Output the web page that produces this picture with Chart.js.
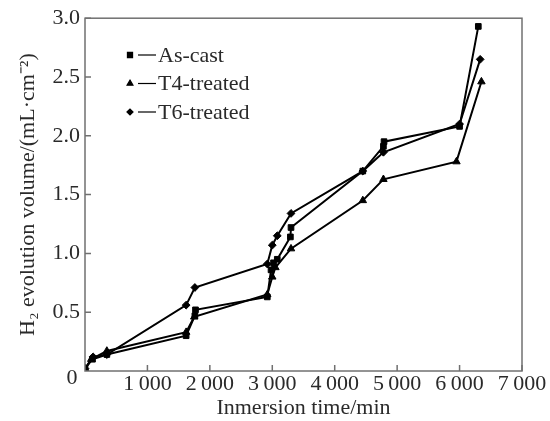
<!DOCTYPE html>
<html><head><meta charset="utf-8">
<script src="https://cdn.jsdelivr.net/npm/chart.js@4/dist/chart.umd.min.js"></script>
<style>html,body{margin:0;padding:0;background:#fff}#wrap{width:550px;height:421px;position:relative}</style>
</head><body><div id="wrap"><canvas id="c" width="550" height="421"></canvas></div>
<script>
const seriesNames = ["As-cast", "T4-treated", "T6-treated"];
const asCastX = [0, 120, 350, 1620, 1760, 1770, 2920, 2980, 3020, 3080, 3290, 3300, 4450, 4780, 4790, 6000, 6300];
const asCastY = [0.02, 0.10, 0.14, 0.30, 0.47, 0.52, 0.63, 0.86, 0.92, 0.95, 1.14, 1.22, 1.70, 1.91, 1.95, 2.08, 2.93];
const t4X = [0, 100, 350, 1620, 1750, 2920, 3000, 3050, 3300, 4450, 4780, 5950, 6350];
const t4Y = [0.02, 0.10, 0.17, 0.33, 0.46, 0.65, 0.80, 0.88, 1.04, 1.45, 1.63, 1.78, 2.46];
const t6X = [0, 130, 350, 1620, 1760, 2920, 3000, 3080, 3300, 4450, 4780, 6000, 6330];
const t6Y = [0.02, 0.12, 0.14, 0.56, 0.71, 0.91, 1.07, 1.15, 1.34, 1.70, 1.86, 2.10, 2.65];
const xTicks = [1000, 2000, 3000, 4000, 5000, 6000, 7000];
const yTicks = [0.5, 1.0, 1.5, 2.0, 2.5, 3.0];

const FONT = "'Liberation Serif', 'Times New Roman', serif";
const TXT = '#2a2a2a';
const pts = (xs, ys) => xs.map((x, i) => ({x: x, y: ys[i]}));
const styles = ['rect', 'triangle', 'rectRot'];
const radii = [4, 4.3, 3.9];
const dataSets = [pts(asCastX, asCastY), pts(t4X, t4Y), pts(t6X, t6Y)];

const framePlugin = {
  id: 'frame',
  afterDraw(chart) {
    const ctx = chart.ctx, a = chart.chartArea;
    const xs = chart.scales.x, ys = chart.scales.y;
    ctx.save();
    ctx.strokeStyle = '#707070';
    ctx.lineWidth = 1.5;
    ctx.strokeRect(a.left, a.top, a.right - a.left, a.bottom - a.top);
    ctx.beginPath();
    xTicks.forEach(v => { const p = xs.getPixelForValue(v); ctx.moveTo(p, a.bottom); ctx.lineTo(p, a.bottom - 6); });
    yTicks.forEach(v => { const p = ys.getPixelForValue(v); ctx.moveTo(a.left, p); ctx.lineTo(a.left + 6, p); });
    ctx.stroke();
    // origin label
    ctx.fillStyle = TXT;
    ctx.font = '22px ' + FONT;
    ctx.textAlign = 'center';
    ctx.textBaseline = 'middle';
    ctx.fillText('0', a.left - 13, a.bottom + 7);
    // legend
    const lx = 130, ly0 = 55, dy = 28.5;
    seriesNames.forEach((n, i) => {
      const y = ly0 + i * dy;
      ctx.fillStyle = '#000';
      ctx.strokeStyle = '#000';
      Chart.helpers.drawPoint(ctx, {pointStyle: styles[i], radius: i === 2 ? 3 : 3.4, borderWidth: 1}, lx, y);
      ctx.lineWidth = 1.2;
      ctx.beginPath(); ctx.moveTo(lx + 8, y); ctx.lineTo(lx + 26, y); ctx.stroke();
      ctx.fillStyle = TXT;
      ctx.textAlign = 'left';
      ctx.fillText(n, lx + 28, y + 1);
    });
    ctx.restore();
  }
};

new Chart(document.getElementById('c'), {
  type: 'line',
  data: {
    datasets: dataSets.map((d, i) => ({
      label: seriesNames[i],
      data: d,
      borderColor: '#000',
      backgroundColor: '#000',
      borderWidth: 2,
      pointStyle: styles[i],
      pointRadius: radii[i],
      pointBorderWidth: 1,
      tension: 0
    }))
  },
  options: {
    responsive: false,
    animation: false,
    layout: {padding: {left: 0, right: 28, top: 9, bottom: 0}},
    plugins: {legend: {display: false}, tooltip: {enabled: false}},
    scales: {
      x: {
        type: 'linear', min: 0, max: 7000,
        afterBuildTicks: s => { s.ticks = xTicks.map(v => ({value: v})); },
        afterFit: s => { s.height = 50; },
        grid: {display: false, drawTicks: false},
        border: {display: false},
        ticks: {color: TXT, font: {family: FONT, size: 22}, padding: 0, maxRotation: 0, autoSkip: false,
          callback: v => String(v).replace(/(\d)(\d{3})$/, '$1\u2009$2')},
        title: {display: true, text: 'Inmersion time/min', color: TXT, font: {family: FONT, size: 22}, padding: {top: 0, bottom: 0}}
      },
      y: {
        type: 'linear', min: 0, max: 3.0,
        afterBuildTicks: s => { s.ticks = yTicks.map(v => ({value: v})); },
        afterFit: s => { s.width = 85; },
        grid: {display: false, drawTicks: false},
        border: {display: false},
        ticks: {color: TXT, font: {family: FONT, size: 22}, padding: 5, autoSkip: false,
          callback: v => v.toFixed(1)},
        title: {display: true, text: 'H\u2082 evolution volume/(mL\u00b7cm\u207b\u00b2)', color: TXT, font: {family: FONT, size: 22}, padding: {top: 15, bottom: 0}}
      }
    }
  },
  plugins: [framePlugin]
});
</script></body></html>
